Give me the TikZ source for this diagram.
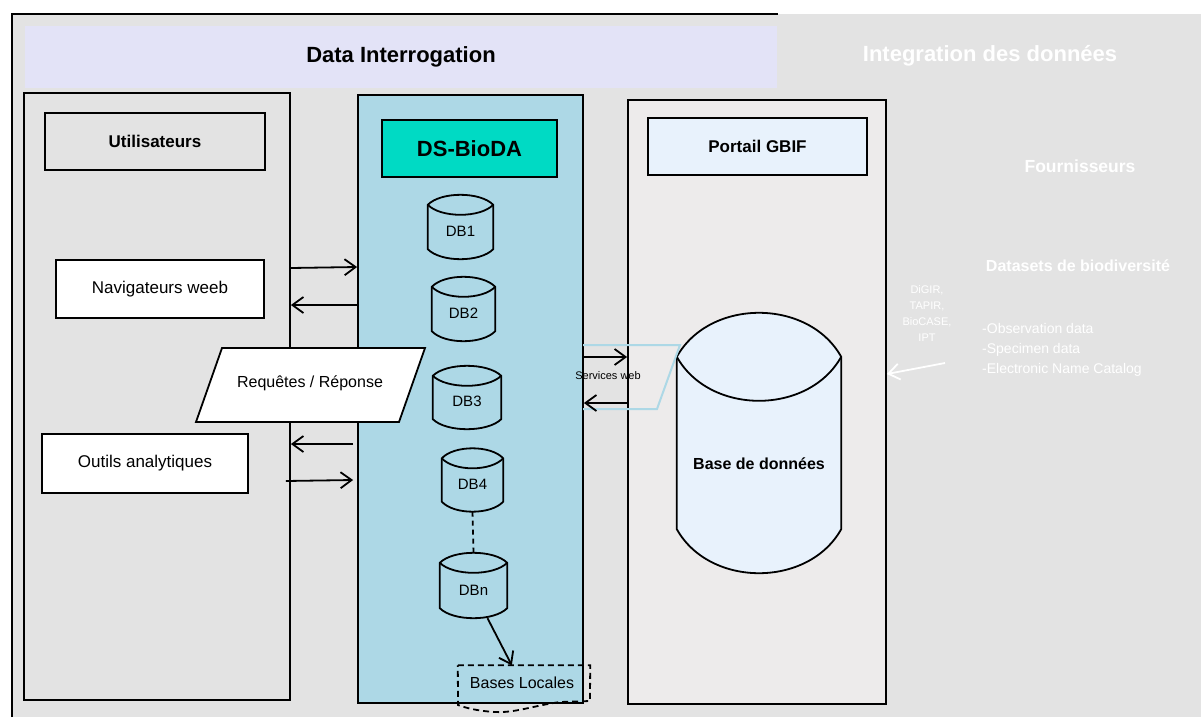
\documentclass[tikz,border=0pt]{standalone}
\usepackage{fontspec}
\setmainfont{Liberation Sans}
\usetikzlibrary{arrows.meta,calc}
\definecolor{bggray}{RGB}{227,227,227}
\definecolor{lav}{RGB}{227,227,247}
\definecolor{dsblue}{RGB}{173,216,230}
\definecolor{turq}{RGB}{0,218,196}
\definecolor{gbifbg}{RGB}{237,235,235}
\definecolor{paleblue}{RGB}{232,242,252}
\newcommand\fsz[1]{\fontsize{#1}{#1}\selectfont}
\newcommand\cylout[3]{%
  \draw[line width=1.8pt, fill=#3] let \p1=(#1.north west), \p2=(#1.south east) in
  (\x1,\y1-#2pt) .. controls ({\x1+0.2*(\x2-\x1)},{\y1+#2pt/3}) and ({\x2-0.2*(\x2-\x1)},{\y1+#2pt/3}) .. (\x2,\y1-#2pt)
  -- (\x2,\y2+#2pt) .. controls ({\x2-0.2*(\x2-\x1)},{\y2-#2pt/3}) and ({\x1+0.2*(\x2-\x1)},{\y2-#2pt/3}) .. (\x1,\y2+#2pt) -- cycle;
  \draw[line width=1.8pt] let \p1=(#1.north west), \p2=(#1.south east) in
  (\x1,\y1-#2pt) .. controls ({\x1+0.2*(\x2-\x1)},{\y1-#2pt-4*#2pt/3}) and ({\x2-0.2*(\x2-\x1)},{\y1-#2pt-4*#2pt/3}) .. (\x2,\y1-#2pt);}
\begin{document}
\begin{tikzpicture}[x=1pt,y=-1pt,
  panel/.style={draw, line width=1.8pt, inner sep=0, minimum width=#1},
  box/.style={draw, line width=1.8pt, inner sep=0},
  cylframe/.style={inner sep=0},
  arr/.style={line width=1.8pt, -{Straight Barb[length=11pt,width=16pt]}},
  warr/.style={white, line width=1.8pt, -{Straight Barb[length=11pt,width=16pt]}},
  dbtext/.style={font=\fsz{15}, inner sep=0}
]
\useasboundingbox (0,0) rectangle (1201,717);
\fill[bggray] (12,14) rectangle (1201,717);
\draw[line width=2pt] (12,717) -- (12,14) -- (778,14);

% title band
\node[fill=lav, inner sep=0, minimum width=752pt, minimum height=62pt, font=\bfseries\fsz{22}] (band) at (401,57) {Data Interrogation};
\node[text=white, font=\bfseries\fsz{22}] (integ) at (990,56) {Integration des données};

% panels
\node[panel=266pt, fill=bggray, minimum height=607pt] (upanel) at (157,396.5) {};
\node[panel=225pt, fill=dsblue, minimum height=608pt] (dspanel) at (470.5,399) {};
\node[panel=258pt, fill=gbifbg, minimum height=604pt] (gbif) at (757,402) {};

% left column
\node[box, fill=bggray, minimum width=220pt, minimum height=57pt, font=\bfseries\fsz{17}] (util) at (155,141.5) {Utilisateurs};
\node[box, fill=white, minimum width=208pt, minimum height=58pt, font=\fsz{17}] (nav) at (160,289) {Navigateurs weeb};
\node[box, fill=white, minimum width=206pt, minimum height=59pt, font=\fsz{17}] (outils) at (145,463.5) {Outils analytiques};

% DS-BioDA
\node[box, fill=turq, minimum width=175pt, minimum height=57pt, font=\bfseries\fsz{22}] (dshead) at (469.5,148.5) {DS-BioDA};

\node[cylframe, minimum width=65pt, minimum height=64pt] (db1) at (460.5,227) {};
\cylout{db1}{10}{dsblue}
\node[dbtext] (db1t) at (460.5,231) {DB1};
\node[cylframe, minimum width=63pt, minimum height=64pt] (db2) at (463.5,309) {};
\cylout{db2}{10}{dsblue}
\node[dbtext] (db2t) at (463.5,313) {DB2};
\node[cylframe, minimum width=68pt, minimum height=63pt] (db3) at (467,397.5) {};
\cylout{db3}{10}{dsblue}
\node[dbtext] (db3t) at (467,401) {DB3};
\node[cylframe, minimum width=61pt, minimum height=63pt] (db4) at (472.5,480) {};
\cylout{db4}{10}{dsblue}
\node[dbtext] (db4t) at (472.5,484) {DB4};
\node[cylframe, minimum width=67pt, minimum height=65pt] (dbn) at (473.5,585.5) {};
\cylout{dbn}{10}{dsblue}
\node[dbtext] (dbnt) at (473.5,590) {DBn};

\draw[line width=1.8pt, dash pattern=on 5pt off 4pt] (db4.south) -- (dbn.north);

% Bases Locales
\node[inner sep=0, minimum width=132pt, minimum height=37pt, font=\fsz{16}] (bl) at (524,684) {};
\node[inner sep=0, font=\fsz{16}] (blt) at (522,683) {Bases Locales};
\draw[line width=1.8pt, dash pattern=on 6pt off 4pt] (bl.north west) -- (bl.north east) -- (590,701) -- (560,702)
  .. controls (532,706) and (515,713) .. (495,712) .. controls (478,711) and (466,708) .. (458,705) -- cycle;
\draw[arr] ([xshift=14pt]dbn.south) -- ([xshift=54pt]bl.north west);

% GBIF
\node[box, fill=paleblue, minimum width=219pt, minimum height=57pt, font=\bfseries\fsz{17}] (portail) at (757.5,146.5) {Portail GBIF};
\node[cylframe, minimum width=164pt, minimum height=260pt] (bigdb) at (759,443) {};
\cylout{bigdb}{44}{paleblue}
\node[inner sep=0, font=\bfseries\fsz{16}] (bigdbt) at (759,464) {Base de données};

% Requetes / Reponse
\node[inner sep=0, minimum width=203pt, minimum height=74pt] (req) at (310.5,385) {};
\draw[line width=1.8pt, fill=white] (222,348) -- (425,348) -- (399,422) -- (196,422) -- cycle;
\node[inner sep=0, font=\fsz{16}] (reqt) at (310,383) {Requêtes / Réponse};

% Services web
\node[inner sep=0, minimum width=97pt, minimum height=64pt] (sw) at (631.5,377) {};
\draw[dsblue, line width=2pt] (583,345) -- (680,345) -- (657,409) -- (583,409);
\node[inner sep=0, font=\fsz{11}] (swt) at (608,376) {Services web};
\draw[arr] (dspanel.east |- 0,357) -- (gbif.west |- 0,357);
\draw[arr] (gbif.west |- 0,403) -- (dspanel.east |- 0,403);

% arrows users <-> DS
\draw[arr] (upanel.east |- 0,268) -- (dspanel.west |- 0,267);
\draw[arr] (dspanel.west |- 0,305) -- (upanel.east |- 0,305);
\draw[arr] ([xshift=-4pt]dspanel.west |- 0,444) -- (upanel.east |- 0,444);
\draw[arr] ([xshift=-5pt]upanel.east |- 0,481) -- ([xshift=-4pt]dspanel.west |- 0,480);

% right white texts
\node[text=white, font=\bfseries\fsz{17.5}] (fourn) at (1080,166) {Fournisseurs};
\node[text=white, font=\bfseries\fsz{16}] (datasets) at (1078,266) {Datasets de biodiversité};
\node[text=white, font=\fontsize{11}{16}\selectfont, align=center, inner sep=0] (proto) at (927,314) {DiGIR,\\TAPIR,\\BioCASE,\\IPT};
\node[text=white, font=\fontsize{14}{20}\selectfont, align=left, anchor=west, inner sep=0] (obs) at (982,350) {-Observation data\\-Specimen data\\-Electronic Name Catalog};
\coordinate (wa) at (945,363);
\draw[warr] (wa) -- (gbif.east |- 0,374);
\end{tikzpicture}
\end{document}
